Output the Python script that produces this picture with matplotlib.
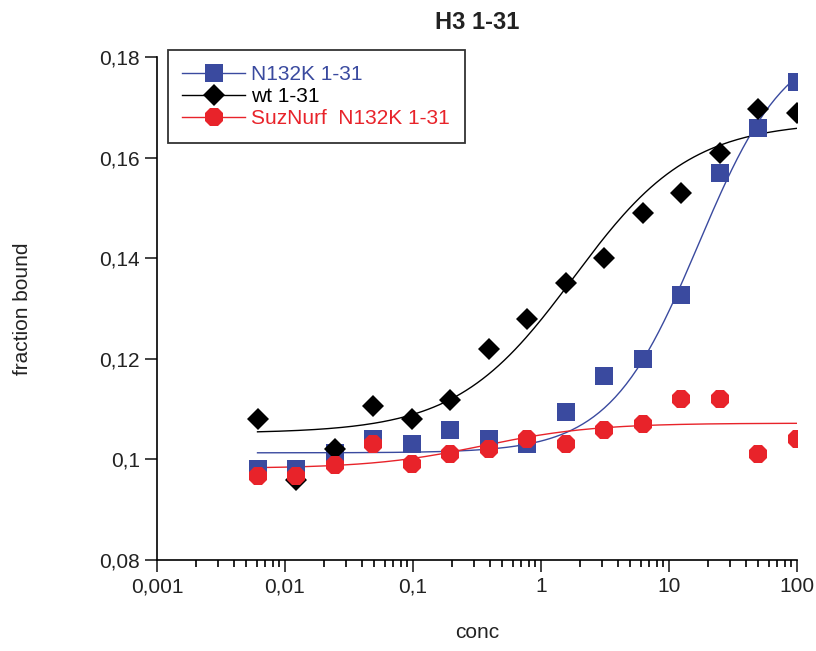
import numpy as np
import matplotlib
matplotlib.use("Agg")
import matplotlib.pyplot as plt
from matplotlib.ticker import FixedLocator, FuncFormatter, LogLocator, NullFormatter

plt.rcParams["font.family"] = ["Liberation Sans", "DejaVu Sans"]

conc = [0.0061, 0.0122, 0.0244, 0.0488, 0.0977, 0.195, 0.39, 0.78,
        1.56, 3.125, 6.25, 12.5, 25, 50, 100]

n132k = [0.098, 0.098, 0.1012, 0.104, 0.103, 0.1058, 0.104, 0.103,
         0.1095, 0.1165, 0.120, 0.1328, 0.157, 0.1659, 0.175]
wt = [0.108, 0.0958, 0.102, 0.1107, 0.108, 0.1118, 0.122, 0.128,
      0.135, 0.140, 0.149, 0.153, 0.161, 0.1698, 0.169]
suznurf = [0.0967, 0.0967, 0.0988, 0.103, 0.099, 0.101, 0.102, 0.104,
           0.103, 0.1058, 0.107, 0.112, 0.112, 0.101, 0.104]

# fitted dose-response parameters: bottom, span, EC50, hill slope
fit_n132k = (0.1013, 0.083, 17.0, 1.25)
fit_wt = (0.1052, 0.062, 1.8, 0.95)
fit_suznurf = (0.0982, 0.0090, 0.35, 1.0)

labels = ["N132K 1-31", "wt 1-31", "SuzNurf  N132K 1-31"]
colors = ["#3a4a9f", "#000000", "#e8232a"]
markers = ["s", "D", "8"]
sizes = [13.5, 11.5, 14.5]


def hill(x, params):
    bottom, span, ec50, n = params
    return bottom + span * (x / ec50) ** n / (1 + (x / ec50) ** n)


def comma(v, pos=None):
    return f"{v:g}".replace(".", ",")


fig = plt.figure(figsize=(8.16, 6.51), dpi=100)
ax = fig.add_axes([0.1924, 0.140, 0.7843, 0.772])

series = list(zip([n132k, wt, suznurf], [fit_n132k, fit_wt, fit_suznurf],
                  colors, markers, sizes))
xs = np.logspace(np.log10(conc[0]), np.log10(conc[-1]), 200)
for data, fit, col, mk, ms in series:
    ax.plot(xs, hill(xs, fit), color=col, linewidth=1.0, zorder=2)
handles = []
for data, fit, col, mk, ms in series:
    ax.plot(conc, data, linestyle="none", marker=mk, markersize=ms,
            color=col, markeredgewidth=0, zorder=3)
    h, = ax.plot([], [], color=col, linewidth=1.0, marker=mk,
                 markersize=ms, markeredgewidth=0)
    handles.append(h)

ax.set_xscale("log")
ax.set_xlim(0.001, 100)
ax.set_ylim(0.08, 0.18)
ax.yaxis.set_major_locator(FixedLocator([0.08, 0.10, 0.12, 0.14, 0.16, 0.18]))
ax.yaxis.set_major_formatter(FuncFormatter(comma))
ax.xaxis.set_major_locator(FixedLocator([0.001, 0.01, 0.1, 1, 10, 100]))
ax.xaxis.set_major_formatter(FuncFormatter(comma))
ax.xaxis.set_minor_locator(LogLocator(base=10, subs=np.arange(2, 10)))
ax.xaxis.set_minor_formatter(NullFormatter())

for s in ["top", "right"]:
    ax.spines[s].set_visible(False)
for s in ["left", "bottom"]:
    ax.spines[s].set_linewidth(1.2)

ax.tick_params(axis="both", which="major", direction="out", length=8.5,
               width=1.2, labelsize=15, pad=4, colors="#222222")
ax.tick_params(axis="x", which="minor", direction="out", length=5, width=1.2)

ax.set_xlabel("conc", fontsize=15, color="#222222")
ax.xaxis.set_label_coords(0.5, -0.125)
ax.set_ylabel("fraction bound", fontsize=15, color="#222222")
ax.yaxis.set_label_coords(-0.196, 0.5)
fig.text(0.585, 0.966, "H3 1-31", fontsize=17, fontweight="bold",
         ha="center", va="center", color="#222222")

leg = ax.legend(handles, labels, loc="upper left",
                bbox_to_anchor=(0.017, 1.014), fontsize=15, frameon=True,
                fancybox=False, edgecolor="black", handlelength=3.0,
                handletextpad=0.3, borderpad=0.7, labelspacing=0.15,
                borderaxespad=0)
leg.get_frame().set_linewidth(1.3)
for t, col in zip(leg.get_texts(), colors):
    t.set_color(col)

fig.savefig("out.png", dpi=100)
